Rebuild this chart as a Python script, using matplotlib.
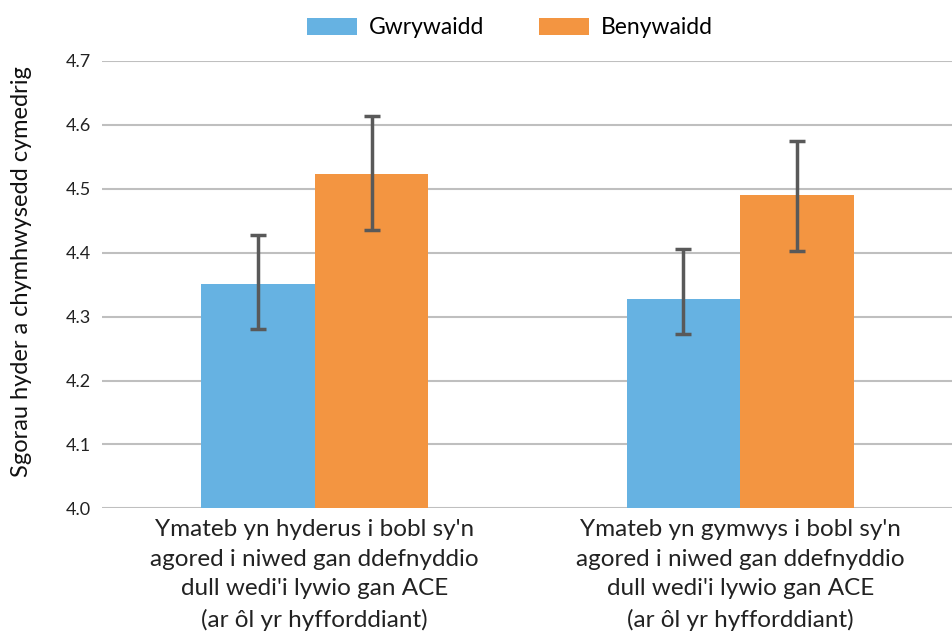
import numpy as np
import matplotlib
matplotlib.use('Agg')
import matplotlib.pyplot as plt

# chart data
categories = [
    "Ymateb yn hyderus i bobl sy'n\nagored i niwed gan ddefnyddio\ndull wedi'i lywio gan ACE\n(ar ôl yr hyfforddiant)",
    "Ymateb yn gymwys i bobl sy'n\nagored i niwed gan ddefnyddio\ndull wedi'i lywio gan ACE\n(ar ôl yr hyfforddiant)",
]
series_names = ["Gwrywaidd", "Benywaidd"]
male_means = [4.351, 4.328]
female_means = [4.523, 4.491]
male_err_low = [0.071, 0.055]
male_err_high = [0.077, 0.077]
female_err_low = [0.088, 0.088]
female_err_high = [0.091, 0.083]
y_ticks = [4.0, 4.1, 4.2, 4.3, 4.4, 4.5, 4.6, 4.7]

plt.rcParams['font.family'] = ['Lato', 'DejaVu Sans']

fig = plt.figure(figsize=(9.53, 6.35), dpi=100)
ax = fig.add_axes([0.107, 0.1995, 0.893, 0.7045])

x = np.arange(len(categories))
w = 0.267
err_style = dict(ecolor='#595959', elinewidth=2.5, capsize=6, capthick=2.5)

ax.bar(x - w / 2, male_means, w, yerr=[male_err_low, male_err_high], color='#66B2E2',
       label=series_names[0], error_kw=err_style, zorder=3)
ax.bar(x + w / 2, female_means, w, yerr=[female_err_low, female_err_high], color='#F39541',
       label=series_names[1], error_kw=err_style, zorder=3)

ax.set_xlim(-0.5, 1.5)
ax.set_ylim(4.0, 4.7)
ax.set_yticks(y_ticks)
ax.set_yticklabels([f'{t:.1f}' for t in y_ticks], fontsize=13, color='#222222')
ax.set_xticks(x)
ax.set_xticklabels(categories, fontsize=17.5, color='#222222', linespacing=1.5)
ax.tick_params(axis='both', length=0, pad=8)
ax.tick_params(axis='x', pad=8)
ax.grid(axis='y', color='#bfbfbf', linewidth=1.5, zorder=0)
for s in ax.spines.values():
    s.set_visible(False)

ax.set_ylabel('Sgorau hyder a chymhwysedd cymedrig', fontsize=17, color='#111111')
ax.yaxis.set_label_coords(-0.082, 0.53)

fig.legend(loc='upper center', bbox_to_anchor=(0.535, 1.005), ncol=2, frameon=False,
           fontsize=16.5, handlelength=2.2, handleheight=0.8, columnspacing=2.4,
           handletextpad=0.5)

fig.savefig('out.png', dpi=100)
